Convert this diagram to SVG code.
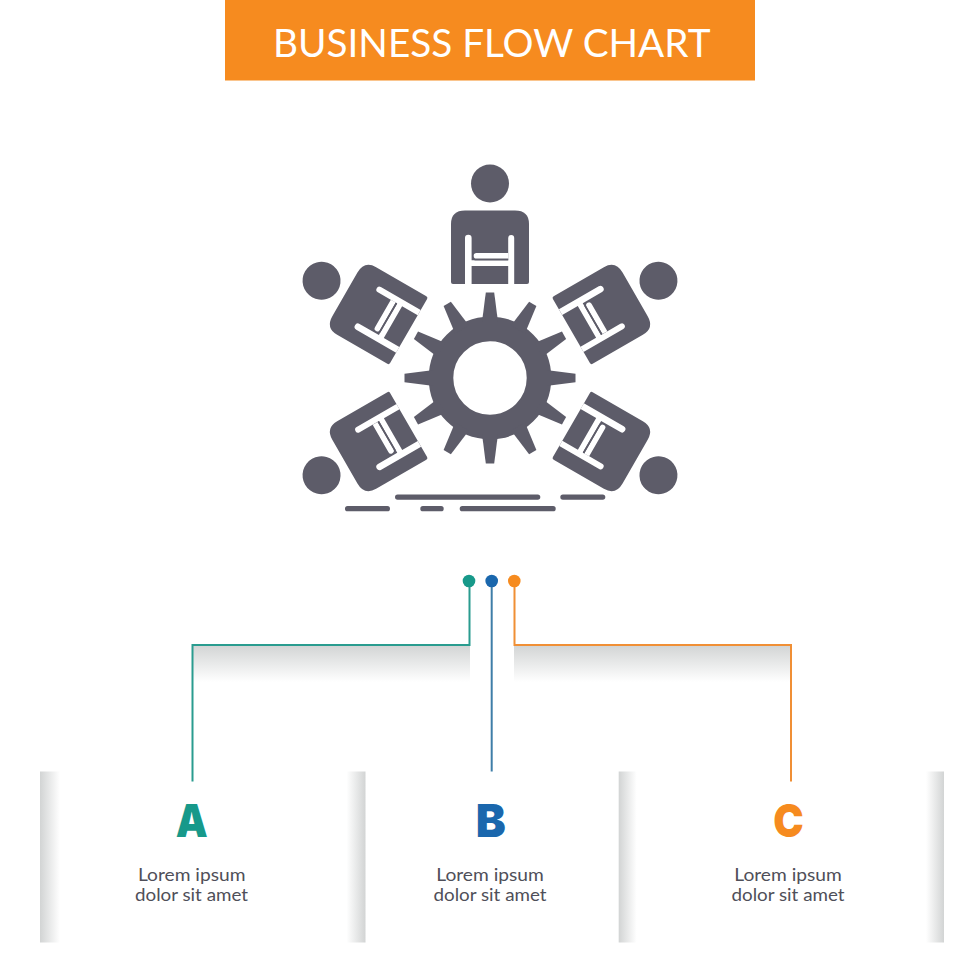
<svg xmlns="http://www.w3.org/2000/svg" xmlns:xlink="http://www.w3.org/1999/xlink" width="980" height="980" viewBox="0 0 980 980">
<style>
.ic{fill:#5d5c69}
.cut{fill:#fff}
.head{font-family:"Lato","Liberation Sans",sans-serif;font-size:38px;fill:#fff}
.body{font-family:"Lato","Liberation Sans",sans-serif;font-size:18px;fill:#4f4f59;text-anchor:middle}
.let{font-family:"Inter","Liberation Sans",sans-serif;font-size:46px;font-weight:900;text-anchor:middle}
.conn{fill:none;stroke-width:2}
</style>
<defs>
<linearGradient id="sl" x1="0" x2="1" y1="0" y2="0"><stop offset="0" stop-color="#d2d4d4"/><stop offset="1" stop-color="#fff"/></linearGradient>
<linearGradient id="sr" x1="1" x2="0" y1="0" y2="0"><stop offset="0" stop-color="#d2d4d4"/><stop offset="1" stop-color="#fff"/></linearGradient>
<linearGradient id="sd" x1="0" x2="0" y1="0" y2="1"><stop offset="0" stop-color="#d2d4d4"/><stop offset="1" stop-color="#fff"/></linearGradient>
<g id="person">
<circle class="ic" cx="490" cy="183.500" r="19"/>
<path class="ic" d="M451 282V224Q451 210.500 465 210.500H515Q529 210.500 529 224V282Q529 284 527 284H453Q451 284 451 282Z"/>
<path class="cut" d="M465 284V238a3.300 3.300 0 0 1 6.600 0V260.300H508.200V238a3 3 0 0 1 6 0V284H508.200V266H471.600V284Z"/>
<path class="cut" d="M476.500 253H508.200V258.700H476.500a2.800 2.800 0 0 1 -2.800 -2.800a2.800 2.800 0 0 1 2.800 -2.900Z"/>
<rect class="ic" x="474.500" y="258.700" width="33.700" height="1.700"/>
</g>
<polygon id="tooth" class="ic" points="482,322 485.800,292.500 494.200,292.500 498,322"/>
</defs>
<rect width="980" height="980" fill="#fff"/>
<g id="header">
<rect x="225" y="0" width="530" height="80.500" fill="#f68b1f"/>
<text class="head" x="273" y="57" textLength="437.500" lengthAdjust="spacingAndGlyphs">BUSINESS FLOW CHART</text>
</g>
<g id="icon">
<g id="person-top"><use xlink:href="#person" href="#person"/></g>
<g id="person-ur"><use href="#person" xlink:href="#person" transform="rotate(60 490 378)"/></g>
<g id="person-lr"><use href="#person" xlink:href="#person" transform="rotate(120 490 378)"/></g>
<g id="person-ll"><use href="#person" xlink:href="#person" transform="rotate(-120 490 378)"/></g>
<g id="person-ul"><use href="#person" xlink:href="#person" transform="rotate(-60 490 378)"/></g>
<g id="gear">
<circle cx="490" cy="378" r="49" fill="none" stroke="#5d5c69" stroke-width="24.600"/>
<use href="#tooth" xlink:href="#tooth"/>
<use href="#tooth" xlink:href="#tooth" transform="rotate(30 490 378)"/>
<use href="#tooth" xlink:href="#tooth" transform="rotate(60 490 378)"/>
<use href="#tooth" xlink:href="#tooth" transform="rotate(90 490 378)"/>
<use href="#tooth" xlink:href="#tooth" transform="rotate(120 490 378)"/>
<use href="#tooth" xlink:href="#tooth" transform="rotate(150 490 378)"/>
<use href="#tooth" xlink:href="#tooth" transform="rotate(180 490 378)"/>
<use href="#tooth" xlink:href="#tooth" transform="rotate(210 490 378)"/>
<use href="#tooth" xlink:href="#tooth" transform="rotate(240 490 378)"/>
<use href="#tooth" xlink:href="#tooth" transform="rotate(270 490 378)"/>
<use href="#tooth" xlink:href="#tooth" transform="rotate(300 490 378)"/>
<use href="#tooth" xlink:href="#tooth" transform="rotate(330 490 378)"/>
</g>
<g id="ground">
<rect class="ic" x="395" y="494.500" width="145.300" height="5.200" rx="2.600"/>
<rect class="ic" x="560.300" y="494.500" width="45" height="5.200" rx="2.600"/>
<rect class="ic" x="345" y="506.100" width="45" height="5.200" rx="2.600"/>
<rect class="ic" x="420.300" y="506.100" width="23.400" height="5.200" rx="2.600"/>
<rect class="ic" x="459.700" y="506.100" width="96" height="5.200" rx="2.600"/>
</g>
</g>
<g id="shadows">
<rect x="193" y="645" width="277" height="37" fill="url(#sd)"/>
<rect x="514" y="645" width="277" height="37" fill="url(#sd)"/>
</g>
<g id="connectors">
<path class="conn" stroke="#2a9c8f" d="M469.500 581V645H192.500V781.500"/>
<path class="conn" stroke="#3f7ea8" d="M491.700 581V771.500"/>
<path class="conn" stroke="#f08f35" d="M514.500 581V645H791V781.500"/>
<circle cx="469" cy="581" r="6.300" fill="#17998a"/>
<circle cx="491.700" cy="581" r="6.300" fill="#1a67ad"/>
<circle cx="514.300" cy="581" r="6.300" fill="#f68b1f"/>
</g>
<g id="panel-a">
<rect x="40" y="771.500" width="20" height="171" fill="url(#sl)"/>
<rect x="346.500" y="771.500" width="19" height="171" fill="url(#sr)"/>
<text class="let" x="191.700" y="837" fill="#17998a" textLength="32" lengthAdjust="spacingAndGlyphs">A</text>
<text class="body" x="191.700" y="880.500" textLength="107.500" lengthAdjust="spacingAndGlyphs">Lorem ipsum</text>
<text class="body" x="191.500" y="900.500" textLength="113" lengthAdjust="spacingAndGlyphs">dolor sit amet</text>
</g>
<g id="panel-b">
<text class="let" x="490.700" y="837" fill="#1a67ad" textLength="30" lengthAdjust="spacingAndGlyphs">B</text>
<text class="body" x="490" y="880.500" textLength="107.500" lengthAdjust="spacingAndGlyphs">Lorem ipsum</text>
<text class="body" x="490" y="900.500" textLength="113" lengthAdjust="spacingAndGlyphs">dolor sit amet</text>
</g>
<g id="panel-c">
<rect x="618.700" y="771.500" width="18" height="171" fill="url(#sl)"/>
<rect x="926" y="771.500" width="18" height="171" fill="url(#sr)"/>
<text class="let" x="788.500" y="837" fill="#f68b1f" textLength="30.500" lengthAdjust="spacingAndGlyphs">C</text>
<text class="body" x="788" y="880.500" textLength="107.500" lengthAdjust="spacingAndGlyphs">Lorem ipsum</text>
<text class="body" x="788" y="900.500" textLength="113" lengthAdjust="spacingAndGlyphs">dolor sit amet</text>
</g>
</svg>
